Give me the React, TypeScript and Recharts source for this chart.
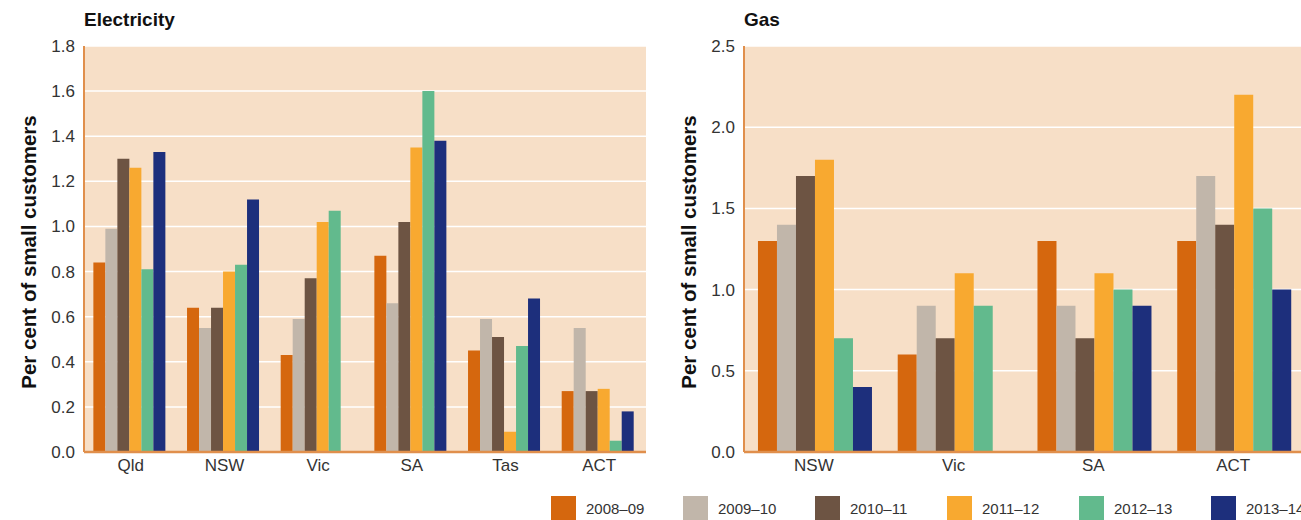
import React from 'react';
import { BarChart, Bar, XAxis, YAxis, CartesianGrid } from 'recharts';

// Years shown in both panels
const years = ['2008–09', '2009–10', '2010–11', '2011–12', '2012–13', '2013–14'];
const yearColors = ['#D5670E', '#C1B6AA', '#6D5443', '#F8A930', '#62BA8D', '#1D2F7C'];

// Electricity (per cent of small customers)
const elecStates = ['Qld', 'NSW', 'Vic', 'SA', 'Tas', 'ACT'];
const elec0809 = [0.84, 0.64, 0.43, 0.87, 0.45, 0.27];
const elec0910 = [0.99, 0.55, 0.59, 0.66, 0.59, 0.55];
const elec1011 = [1.30, 0.64, 0.77, 1.02, 0.51, 0.27];
const elec1112 = [1.26, 0.80, 1.02, 1.35, 0.09, 0.28];
const elec1213 = [0.81, 0.83, 1.07, 1.60, 0.47, 0.05];
const elec1314 = [1.33, 1.12, null, 1.38, 0.68, 0.18];
const elecTicks = [0, 0.2, 0.4, 0.6, 0.8, 1.0, 1.2, 1.4, 1.6, 1.8];

// Gas
const gasStates = ['NSW', 'Vic', 'SA', 'ACT'];
const gas0809 = [1.3, 0.6, 1.3, 1.3];
const gas0910 = [1.4, 0.9, 0.9, 1.7];
const gas1011 = [1.7, 0.7, 0.7, 1.4];
const gas1112 = [1.8, 1.1, 1.1, 2.2];
const gas1213 = [0.7, 0.9, 1.0, 1.5];
const gas1314 = [0.4, null, 0.9, 1.0];
const gasTicks = [0, 0.5, 1.0, 1.5, 2.0, 2.5];

const buildRows = (cats: string[], series: (number | null)[][]) =>
  cats.map((name, i) => {
    const row: Record<string, any> = { name };
    series.forEach((s, k) => { row[`y${k}`] = s[i]; });
    return row;
  });

const elecData = buildRows(elecStates, [elec0809, elec0910, elec1011, elec1112, elec1213, elec1314]);
const gasData = buildRows(gasStates, [gas0809, gas0910, gas1011, gas1112, gas1213, gas1314]);

const FONT = '"Liberation Sans", Arial, sans-serif';
const AXIS_ORANGE = '#E08F4C';
const tickStyle = { fontSize: 17, fill: '#333', fontFamily: FONT };

function Panel({ title, data, ticks, max, width, left }: {
  title: string; data: any[]; ticks: number[]; max: number; width: number; left: number;
}) {
  return (
    <div style={{ position: 'absolute', left, top: 0, width, height: 484 }}>
      <div style={{ position: 'absolute', left: 84, top: 9, fontSize: 19, fontWeight: 'bold', fontFamily: FONT, color: '#111' }}>
        {title}
      </div>
      <BarChart
        width={width}
        height={484}
        data={data}
        margin={{ top: 46, right: 0, left: 0, bottom: 0 }}
        barGap={0}
        barCategoryGap="10%"
      >
        <CartesianGrid vertical={false} stroke="#FFFFFF" strokeWidth={1.5} fill="#F7DFC7" />
        <XAxis
          dataKey="name"
          tickLine={false}
          tickSize={0}
          tickMargin={7}
          height={32}
          axisLine={{ stroke: AXIS_ORANGE, strokeWidth: 2.5 }}
          tick={tickStyle}
        />
        <YAxis
          width={84}
          domain={[0, max]}
          ticks={ticks}
          interval={0}
          tickFormatter={(v: number) => v.toFixed(1)}
          tickLine={false}
          tickSize={0}
          tickMargin={9}
          axisLine={{ stroke: AXIS_ORANGE, strokeWidth: 2 }}
          tick={tickStyle}
          label={{
            value: 'Per cent of small customers',
            angle: -90,
            position: 'center',
            dx: -13,
            dy: 3,
            style: { fontSize: 20.5, fontWeight: 'bold', fill: '#111', fontFamily: FONT, textAnchor: 'middle' },
          }}
        />
        {years.map((y, k) => (
          <Bar key={y} dataKey={`y${k}`} name={y} fill={yearColors[k]} isAnimationActive={false} />
        ))}
      </BarChart>
    </div>
  );
}

function LegendRow() {
  return (
    <div style={{ position: 'absolute', left: 551, top: 496, height: 24, whiteSpace: 'nowrap' }}>
      {years.map((y, k) => (
        <div key={y} style={{ position: 'absolute', left: k * 132, top: 0, display: 'flex', alignItems: 'center' }}>
          <div style={{ width: 25, height: 24, background: yearColors[k] }} />
          <span style={{ marginLeft: 10, fontSize: 15, fontFamily: FONT, color: '#333' }}>{y}</span>
        </div>
      ))}
    </div>
  );
}

export default function App() {
  return (
    <div style={{ position: 'absolute', left: 0, top: 0, width: 1301, height: 520, overflow: 'hidden', background: '#fff' }}>
      <Panel title="Electricity" data={elecData} ticks={elecTicks} max={1.8} width={646} left={0} />
      <Panel title="Gas" data={gasData} ticks={gasTicks} max={2.5} width={643} left={660} />
      <LegendRow />
    </div>
  );
}
